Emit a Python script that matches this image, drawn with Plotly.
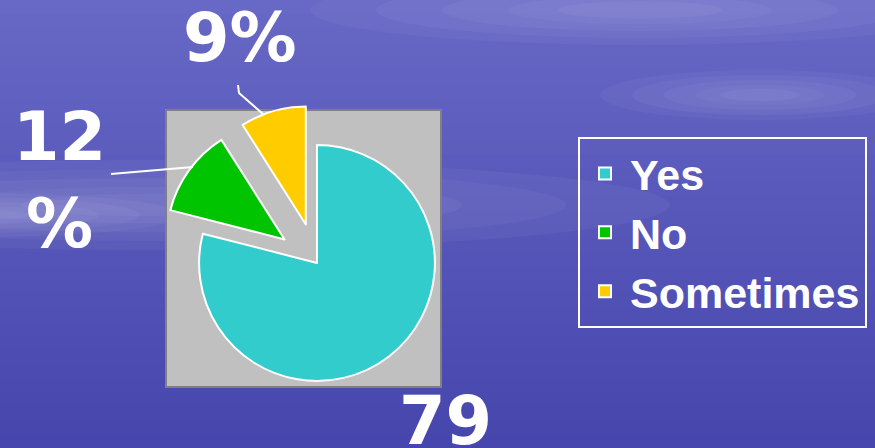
import plotly.graph_objects as go

W, H = 875, 448

answers = ["Yes", "No", "Sometimes"]
percent = [79, 12, 9]
slice_colors = ["#33CCCC", "#00C400", "#FFCC00"]
# labels as they wrap on the slide
label_text = ["79<br>%", "12<br>%", "9%"]


def px(x):
    return x / W


def py(y):
    return 1 - y / H


fig = go.Figure()

fig.add_trace(go.Pie(
    labels=answers,
    values=percent,
    sort=False,
    direction="clockwise",
    rotation=0,
    pull=[0, 0.34, 0.34],
    marker=dict(colors=slice_colors, line=dict(color="white", width=2)),
    textinfo="none",
    hoverinfo="label+percent",
    domain=dict(x=[px(159), px(475)], y=[py(421), py(105)]),
))

# slide background: vertical blue gradient plus a few soft highlights
shapes = []
top_c = (104, 104, 198)
bot_c = (70, 70, 174)
n = 32
for i in range(n):
    t = i / (n - 1)
    c = tuple(int(top_c[k] + (bot_c[k] - top_c[k]) * t) for k in range(3))
    shapes.append(dict(type="rect", xref="paper", yref="paper", layer="below",
                       x0=0, x1=1, y0=1 - (i + 1) / n, y1=1 - i / n,
                       fillcolor="rgb(%d,%d,%d)" % c, line=dict(width=0)))

glows = [(150, 205, 520, 45), (-20, 215, 200, 22), (640, 10, 330, 35), (760, 95, 160, 25)]
for (cx, cy, rx, ry) in glows:
    for s in [1.0, 0.8, 0.6, 0.4, 0.25]:
        shapes.append(dict(type="circle", xref="paper", yref="paper", layer="below",
                           x0=px(cx - rx * s), x1=px(cx + rx * s),
                           y0=py(cy + ry * s), y1=py(cy - ry * s),
                           fillcolor="white", opacity=0.04, line=dict(width=0)))

# grey chart area
shapes.append(dict(type="rect", xref="paper", yref="paper", layer="below",
                   x0=px(166), x1=px(441), y0=py(387), y1=py(110),
                   fillcolor="#C0C0C0", line=dict(color="#808080", width=2)))

# leader lines
shapes.append(dict(type="path", xref="paper", yref="paper",
                   path="M %f,%f L %f,%f L %f,%f" % (px(238), py(85), px(239), py(93), px(263), py(114)),
                   line=dict(color="white", width=2)))
shapes.append(dict(type="line", xref="paper", yref="paper",
                   x0=px(111), y0=py(174), x1=px(193), y1=py(167),
                   line=dict(color="white", width=2)))

big = dict(family="DejaVu Sans", size=67, color="white", weight="bold")
annotations = [
    dict(text=label_text[2], x=px(240), y=py(38), xanchor="center", yanchor="middle"),
    dict(text=label_text[1], x=px(59), y=py(180), xanchor="center", yanchor="middle"),
    dict(text=label_text[0], x=px(446), y=py(380), xanchor="center", yanchor="top"),
]
for a in annotations:
    a.update(xref="paper", yref="paper", showarrow=False, font=big)

fig.update_layout(
    width=W, height=H,
    margin=dict(l=0, r=0, t=0, b=0),
    paper_bgcolor="#5858BA",
    plot_bgcolor="rgba(0,0,0,0)",
    shapes=shapes,
    annotations=annotations,
    showlegend=True,
    legend=dict(
        x=px(578), y=py(137), xanchor="left", yanchor="top",
        itemwidth=40,
        bgcolor="rgba(0,0,0,0)", bordercolor="white", borderwidth=2,
        font=dict(family="Liberation Sans", size=43, color="white", weight="bold"),
    ),
)

fig.write_html("out.html", config={"displayModeBar": False},
               post_script="document.body.style.margin='0px';")
